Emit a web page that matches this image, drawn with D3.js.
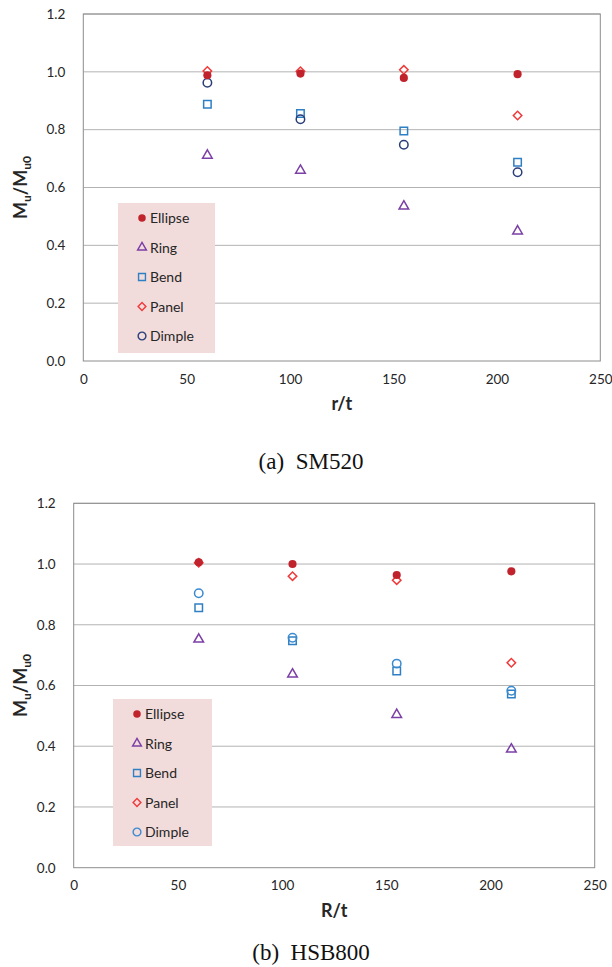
<!DOCTYPE html>
<html>
<head>
<meta charset="utf-8">
<script src="https://cdn.jsdelivr.net/npm/d3@7"></script>
<style>
  body { margin: 0; background: #fff; }
  text { font-family: Lato, "Open Sans", sans-serif; fill: #262626; }
  text.caption { font-family: "Liberation Serif", "Times New Roman", serif; fill: #111; }
</style>
</head>
<body>
<div class="canvas"></div>
<script>
// data
const rt = [60, 105, 155, 210];
const seriesNames = ["Ellipse", "Ring", "Bend", "Panel", "Dimple"];
const xTicks = [0, 50, 100, 150, 200, 250];
const yTicks = [0, 0.2, 0.4, 0.6, 0.8, 1.0, 1.2];

// (a) SM520
const sm520Ellipse = [0.988, 0.994, 0.979, 0.992];
const sm520Ring = [0.711, 0.659, 0.535, 0.449];
const sm520Bend = [0.888, 0.856, 0.795, 0.687];
const sm520Panel = [1.003, 1.002, 1.007, 0.849];
const sm520Dimple = [0.962, 0.836, 0.748, 0.653];

// (b) HSB800
const hsb800Ellipse = [1.006, 1.0, 0.964, 0.976];
const hsb800Ring = [0.752, 0.637, 0.504, 0.39];
const hsb800Bend = [0.856, 0.747, 0.648, 0.572];
const hsb800Panel = [1.004, 0.96, 0.947, 0.675];
const hsb800Dimple = [0.904, 0.757, 0.672, 0.583];

const svg = d3
  .select(".canvas")
  .append("svg")
  .attr("width", 612)
  .attr("height", 967);

const symbolOf = {
  Ellipse: { type: d3.symbolCircle, size: 52, filled: true, rotate: 0 },
  Ring: { type: d3.symbolTriangle, size: 40, filled: false, rotate: 0 },
  Bend: { type: d3.symbolSquare, size: 56, filled: false, rotate: 0 },
  Panel: { type: d3.symbolSquare, size: 36, filled: false, rotate: 45 },
  Dimple: { type: d3.symbolCircle, size: 56, filled: false, rotate: 0 },
};

function drawChart(cfg) {
  const x = d3.scaleLinear().domain([0, 250]).range([cfg.left, cfg.right]);
  const y = d3.scaleLinear().domain([0, 1.2]).range([cfg.bottom, cfg.top]);

  const g = svg.append("g");

  // gridlines
  g.selectAll(".grid")
    .data(yTicks.slice(1))
    .enter()
    .append("line")
    .attr("x1", cfg.left)
    .attr("x2", cfg.right)
    .attr("y1", (d) => y(d))
    .attr("y2", (d) => y(d))
    .attr("stroke", "#b3b3b3")
    .attr("stroke-width", 1);

  // frame
  g.append("rect")
    .attr("x", cfg.left)
    .attr("y", cfg.top)
    .attr("width", cfg.right - cfg.left)
    .attr("height", cfg.bottom - cfg.top)
    .attr("fill", "none")
    .attr("stroke", "#8c8c8c")
    .attr("stroke-width", 1);

  // axes (labels only, Excel style)
  const yAxis = d3.axisLeft(y).tickValues(yTicks).tickFormat(d3.format(".1f")).tickSize(0).tickPadding(18);
  const xAxis = d3.axisBottom(x).tickValues(xTicks).tickSize(0).tickPadding(13);

  const yAxisGroup = g.append("g").attr("transform", `translate(${cfg.left},0)`).call(yAxis);
  const xAxisGroup = g.append("g").attr("transform", `translate(0,${cfg.bottom})`).call(xAxis);
  [yAxisGroup, xAxisGroup].forEach((ag) => {
    ag.select(".domain").remove();
    ag.selectAll("text").attr("font-size", 13.5);
  });

  // axis titles
  g.append("text")
    .attr("x", (cfg.left + cfg.right) / 2)
    .attr("y", cfg.bottom + 49)
    .attr("text-anchor", "middle")
    .attr("font-size", 18)
    .attr("font-weight", "bold")
    .text(cfg.xTitle);

  const yt = g
    .append("text")
    .attr("transform", `translate(27,${(cfg.top + cfg.bottom) / 2}) rotate(-90)`)
    .attr("text-anchor", "middle")
    .attr("font-size", 18)
    .attr("font-weight", "bold");
  yt.append("tspan").text("M");
  yt.append("tspan").attr("font-size", 12).attr("dy", 4).text("u");
  yt.append("tspan").attr("dy", -4).text("/M");
  yt.append("tspan").attr("font-size", 12).attr("dy", 4).text("u0");

  // legend
  g.append("rect")
    .attr("x", cfg.legend.x)
    .attr("y", cfg.legend.y)
    .attr("width", cfg.legend.w)
    .attr("height", cfg.legend.h)
    .attr("fill", "#f2dcdb");

  const items = g
    .selectAll(".leg")
    .data(seriesNames)
    .enter()
    .append("g")
    .attr("transform", (d, i) => `translate(${cfg.legend.x + 24},${cfg.legend.y + 15 + i * 29.5})`);

  items
    .append("path")
    .attr("d", (d) => d3.symbol().type(symbolOf[d].type).size(symbolOf[d].size * 0.85)())
    .attr("transform", (d) => `rotate(${symbolOf[d].rotate})`)
    .attr("fill", (d) => (symbolOf[d].filled ? cfg.colors[d] : "none"))
    .attr("stroke", (d) => (symbolOf[d].filled ? "none" : cfg.colors[d]))
    .attr("stroke-width", 1.4);

  items
    .append("text")
    .attr("x", 8)
    .attr("y", 5)
    .attr("font-size", 14)
    .text((d) => d);

  // points
  cfg.series.forEach((s) => {
    const sym = symbolOf[s.name];
    g.selectAll(".pt-" + s.name)
      .data(s.values)
      .enter()
      .append("path")
      .attr("d", d3.symbol().type(sym.type).size(sym.size)())
      .attr("transform", (d, i) => `translate(${x(rt[i])},${y(d)}) rotate(${sym.rotate})`)
      .attr("fill", sym.filled ? cfg.colors[s.name] : "none")
      .attr("stroke", sym.filled ? "none" : cfg.colors[s.name])
      .attr("stroke-width", 1.5);
  });

  // caption
  g.append("text")
    .attr("class", "caption")
    .attr("x", 311)
    .attr("y", cfg.captionY)
    .attr("text-anchor", "middle")
    .attr("font-size", 23)
    .attr("xml:space", "preserve")
    .text(cfg.caption);
}

drawChart({
  left: 83.3,
  right: 600.3,
  top: 14,
  bottom: 361,
  xTitle: "r/t",
  caption: "(a)  SM520",
  captionY: 469,
  legend: { x: 118, y: 203, w: 97, h: 150 },
  colors: { Ellipse: "#c0232b", Ring: "#7b3fa6", Bend: "#2f7fc4", Panel: "#f03a3a", Dimple: "#283d78" },
  series: [
    { name: "Ring", values: sm520Ring },
    { name: "Bend", values: sm520Bend },
    { name: "Dimple", values: sm520Dimple },
    { name: "Panel", values: sm520Panel },
    { name: "Ellipse", values: sm520Ellipse },
  ],
});

drawChart({
  left: 73.7,
  right: 594.7,
  top: 503.3,
  bottom: 867.7,
  xTitle: "R/t",
  caption: "(b)  HSB800",
  captionY: 960,
  legend: { x: 113, y: 699, w: 99, h: 147 },
  colors: { Ellipse: "#c0232b", Ring: "#7b3fa6", Bend: "#2f7fc4", Panel: "#f03a3a", Dimple: "#3a8ad0" },
  series: [
    { name: "Ring", values: hsb800Ring },
    { name: "Bend", values: hsb800Bend },
    { name: "Dimple", values: hsb800Dimple },
    { name: "Panel", values: hsb800Panel },
    { name: "Ellipse", values: hsb800Ellipse },
  ],
});
</script>
</body>
</html>
